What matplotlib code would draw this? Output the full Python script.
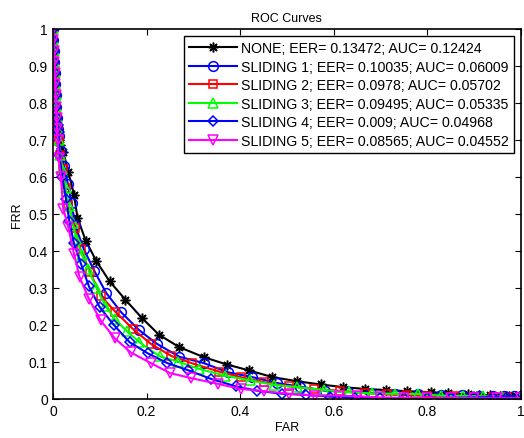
import matplotlib
matplotlib.use("Agg")
import matplotlib.pyplot as plt
from matplotlib.ticker import FormatStrFormatter, MultipleLocator

plt.rcParams['font.family'] = ['Liberation Sans', 'DejaVu Sans']

# FAR / FRR points
none_far = [0, 0.001, 0.002, 0.003, 0.004, 0.005, 0.006, 0.007, 0.008, 0.010, 0.012, 0.016,
            0.022, 0.033, 0.045, 0.0525, 0.070, 0.093, 0.121, 0.155, 0.190, 0.227, 0.270,
            0.322, 0.372, 0.419, 0.469, 0.521, 0.572, 0.620, 0.666, 0.712, 0.756, 0.808,
            0.845, 0.887, 0.910, 0.935, 0.955, 0.975, 0.990, 1.0]
none_frr = [1.0, 0.97, 0.94, 0.91, 0.88, 0.85, 0.82, 0.79, 0.76, 0.73, 0.70, 0.685,
            0.668, 0.613, 0.552, 0.489, 0.428, 0.372, 0.318, 0.268, 0.219, 0.173, 0.140,
            0.113, 0.093, 0.077, 0.059, 0.048, 0.039, 0.032, 0.027, 0.024, 0.021, 0.018,
            0.015, 0.013, 0.011, 0.010, 0.009, 0.008, 0.007, 0.006]

s1_far = [0, 0.001, 0.002, 0.003, 0.004, 0.005, 0.006, 0.007, 0.008, 0.010, 0.012, 0.017,
          0.024, 0.032, 0.040, 0.047, 0.066, 0.088, 0.114, 0.146, 0.184, 0.222, 0.270,
          0.322, 0.374, 0.426, 0.479, 0.529, 0.582, 0.630, 0.680, 0.730, 0.780, 0.830,
          0.875, 0.910, 0.940, 0.965, 0.985, 1.0]
s1_frr = [1.0, 0.97, 0.94, 0.91, 0.88, 0.85, 0.82, 0.79, 0.76, 0.73, 0.71, 0.67,
          0.63, 0.58, 0.53, 0.470, 0.405, 0.347, 0.286, 0.234, 0.186, 0.149, 0.114,
          0.097, 0.072, 0.059, 0.043, 0.033, 0.022, 0.019, 0.016, 0.014, 0.012, 0.011,
          0.010, 0.009, 0.008, 0.008, 0.007, 0.007]

s2_far = [0, 0.001, 0.002, 0.003, 0.004, 0.005, 0.006, 0.007, 0.008, 0.010, 0.012, 0.016,
          0.021, 0.027, 0.033, 0.047, 0.059, 0.079, 0.102, 0.133, 0.171, 0.209, 0.253,
          0.298, 0.355, 0.401, 0.451, 0.504, 0.557, 0.614, 0.666, 0.713, 0.756, 0.800,
          0.857, 0.900, 0.940, 0.970, 1.0]
s2_frr = [1.0, 0.97, 0.94, 0.91, 0.88, 0.85, 0.82, 0.79, 0.76, 0.73, 0.70, 0.66,
          0.62, 0.57, 0.523, 0.462, 0.404, 0.344, 0.279, 0.236, 0.189, 0.149, 0.116,
          0.096, 0.074, 0.059, 0.045, 0.034, 0.027, 0.022, 0.016, 0.012, 0.010, 0.008,
          0.007, 0.006, 0.005, 0.005, 0.004]

s3_far = [0, 0.001, 0.002, 0.003, 0.004, 0.005, 0.006, 0.007, 0.008, 0.010, 0.012, 0.015,
          0.020, 0.027, 0.035, 0.042, 0.050, 0.062, 0.075, 0.093, 0.112, 0.132, 0.158,
          0.185, 0.228, 0.267, 0.313, 0.368, 0.421, 0.472, 0.522, 0.579, 0.632, 0.681,
          0.731, 0.781, 0.830, 0.876, 0.920, 0.960, 1.0]
s3_frr = [1.0, 0.97, 0.94, 0.91, 0.88, 0.85, 0.82, 0.79, 0.76, 0.73, 0.70, 0.66,
          0.62, 0.57, 0.52, 0.475, 0.432, 0.390, 0.351, 0.300, 0.252, 0.216, 0.183,
          0.153, 0.115, 0.101, 0.081, 0.063, 0.050, 0.038, 0.032, 0.024, 0.018, 0.015,
          0.014, 0.013, 0.009, 0.008, 0.007, 0.006, 0.005]

s4_far = [0, 0.001, 0.002, 0.003, 0.004, 0.005, 0.006, 0.007, 0.008, 0.010, 0.012, 0.014,
          0.020, 0.028, 0.035, 0.045, 0.060, 0.077, 0.100, 0.130, 0.164, 0.203, 0.244,
          0.288, 0.338, 0.391, 0.437, 0.490, 0.540, 0.593, 0.646, 0.700, 0.750, 0.800,
          0.850, 0.900, 0.940, 0.970, 1.0]
s4_frr = [1.0, 0.97, 0.94, 0.91, 0.88, 0.85, 0.82, 0.79, 0.76, 0.74, 0.72, 0.66,
          0.60, 0.54, 0.48, 0.42, 0.365, 0.304, 0.248, 0.200, 0.153, 0.123, 0.097,
          0.078, 0.054, 0.034, 0.022, 0.014, 0.011, 0.006, 0.003, 0.002, 0.002, 0.002,
          0.003, 0.004, 0.005, 0.006, 0.007]

s5_far = [0, 0.001, 0.002, 0.003, 0.004, 0.005, 0.006, 0.007, 0.008, 0.009, 0.010, 0.012,
          0.017, 0.022, 0.033, 0.045, 0.057, 0.077, 0.102, 0.132, 0.166, 0.209, 0.250,
          0.296, 0.352, 0.401, 0.451, 0.504, 0.561, 0.611, 0.650, 0.700, 0.750, 0.800,
          0.850, 0.900, 0.950, 1.0]
s5_frr = [1.0, 0.97, 0.94, 0.91, 0.88, 0.85, 0.82, 0.79, 0.76, 0.73, 0.70, 0.65,
          0.60, 0.514, 0.464, 0.392, 0.329, 0.270, 0.212, 0.164, 0.126, 0.097, 0.070,
          0.056, 0.041, 0.027, 0.021, 0.014, 0.009, 0.009, 0.007, 0.004, 0.003, 0.003,
          0.003, 0.002, 0.002, 0.002]

labels = ["NONE; EER= 0.13472; AUC= 0.12424",
          "SLIDING 1; EER= 0.10035; AUC= 0.06009",
          "SLIDING 2; EER= 0.0978; AUC= 0.05702",
          "SLIDING 3; EER= 0.09495; AUC= 0.05335",
          "SLIDING 4; EER= 0.009; AUC= 0.04968",
          "SLIDING 5; EER= 0.08565; AUC= 0.04552"]

asterisk = (8, 2, 0)   # MATLAB-style '*'
series = [(none_far, none_frr, 'k', asterisk),
          (s1_far, s1_frr, '#0000ff', 'o'),
          (s2_far, s2_frr, '#ff0000', 's'),
          (s3_far, s3_frr, '#00ff00', '^'),
          (s4_far, s4_frr, '#0000ff', 'D'),
          (s5_far, s5_frr, '#ff00ff', 'v')]

fig = plt.figure(figsize=(5.24, 4.39), dpi=100)
ax = fig.add_axes([0.101, 0.089, 0.893, 0.843])

for (x, y, c, m), lab in zip(series, labels):
    ms = 5.5 if m in ('s', 'D') else 7
    ax.plot(x, y, color=c, marker=m, markersize=ms, markerfacecolor='none',
            markeredgecolor=c, markeredgewidth=1.1, linewidth=1.5, label=lab)

ax.set_xlim(0, 1)
ax.set_ylim(0, 1)
ax.xaxis.set_major_locator(MultipleLocator(0.2))
ax.yaxis.set_major_locator(MultipleLocator(0.1))
ax.xaxis.set_major_formatter(FormatStrFormatter('%g'))
ax.yaxis.set_major_formatter(FormatStrFormatter('%g'))
ax.tick_params(direction='in', top=True, right=True, length=4, labelsize=10)
for sp in ax.spines.values():
    sp.set_linewidth(1.2)

ax.set_xlabel("FAR", fontsize=9, labelpad=2)
ax.set_ylabel("FRR", fontsize=9, labelpad=4)
ax.set_title("ROC Curves", fontsize=9, pad=6)

leg = ax.legend(loc='upper right', bbox_to_anchor=(0.985, 0.98), fontsize=10.2,
                fancybox=False, framealpha=1, edgecolor='k', handlelength=3.4,
                borderpad=0.35, labelspacing=0.32, handletextpad=0.3, borderaxespad=0)
leg.get_frame().set_linewidth(1.0)

fig.savefig("out.png", dpi=100)
